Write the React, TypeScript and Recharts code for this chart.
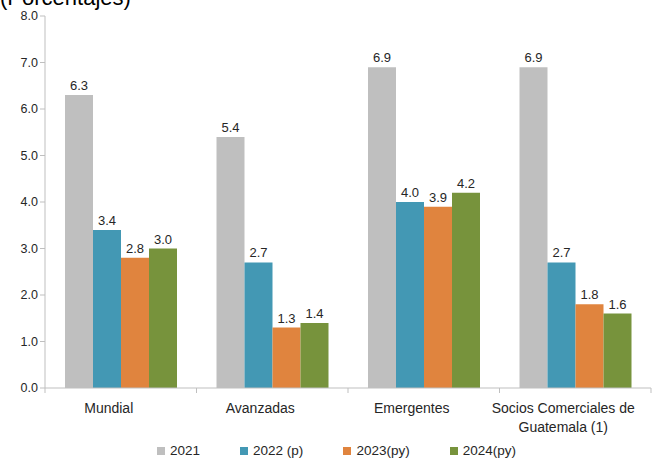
import React from 'react';
import { BarChart, Bar, XAxis, YAxis, LabelList, Legend } from 'recharts';

const categories = ['Mundial', 'Avanzadas', 'Emergentes', 'Socios Comerciales de Guatemala (1)'];
const y2021 = [6.3, 5.4, 6.9, 6.9];
const y2022 = [3.4, 2.7, 4.0, 2.7];
const y2023 = [2.8, 1.3, 3.9, 1.8];
const y2024 = [3.0, 1.4, 4.2, 1.6];
const yTicks = [0, 1, 2, 3, 4, 5, 6, 7, 8];

const series = [
  { key: 'a2021', name: '2021', color: '#BFBFBF', values: y2021 },
  { key: 'a2022', name: '2022 (p)', color: '#4398B4', values: y2022 },
  { key: 'a2023', name: '2023(py)', color: '#E0843E', values: y2023 },
  { key: 'a2024', name: '2024(py)', color: '#77933C', values: y2024 },
];

const data = categories.map((name, i) => {
  const row: Record<string, string | number> = { name };
  series.forEach((s) => {
    row[s.key] = s.values[i];
  });
  return row;
});

const FONT = '"Liberation Sans", Arial, sans-serif';

// greedy word wrap by character count
const wrap = (text: string, max: number) => {
  const lines: string[] = [];
  let cur = '';
  text.split(' ').forEach((w) => {
    const next = cur ? `${cur} ${w}` : w;
    if (next.length > max && cur) {
      lines.push(cur);
      cur = w;
    } else {
      cur = next;
    }
  });
  if (cur) lines.push(cur);
  return lines;
};

const CategoryTick = (props: any) => {
  const { x, y, payload, width, visibleTicksCount, index } = props;
  const band = width / visibleTicksCount;
  const lines = wrap(String(payload.value), 22);
  return (
    <g>
      <line x1={x + band / 2} y1={y - 8} x2={x + band / 2} y2={y - 3} stroke="#BFBFBF" />
      {index === 0 && <line x1={x - band / 2} y1={y - 8} x2={x - band / 2} y2={y - 3} stroke="#BFBFBF" />}
      <text x={x - 12} y={y + 4} textAnchor="middle" fill="#262626" fontSize={14} fontFamily={FONT}>
        {lines.map((l, i) => (
          <tspan key={i} x={x - 12} dy={i === 0 ? '0.9em' : 19}>
            {l}
          </tspan>
        ))}
      </text>
    </g>
  );
};

const LegendContent = () => (
  <div
    style={{
      display: 'flex',
      justifyContent: 'center',
      gap: 40,
      fontFamily: FONT,
      fontSize: 13.5,
      lineHeight: '16px',
      color: '#262626',
      paddingLeft: 22,
      paddingTop: 3,
    }}
  >
    {series.map((s) => (
      <div key={s.key} style={{ display: 'flex', alignItems: 'center' }}>
        <span style={{ width: 8, height: 8, background: s.color, display: 'inline-block', marginRight: 5 }} />
        <span>{s.name}</span>
      </div>
    ))}
  </div>
);

const App: React.FC = () => {
  return (
    <div style={{ position: 'fixed', top: 0, left: 0, width: 655, height: 461, overflow: 'hidden', background: '#fff' }}>
      <div
        style={{
          position: 'absolute',
          top: -15,
          left: 0,
          fontFamily: FONT,
          fontSize: 22,
          color: '#000',
          whiteSpace: 'nowrap',
        }}
      >
        (Porcentajes)
      </div>
      <BarChart
        width={655}
        height={461}
        data={data}
        margin={{ top: 16, right: 4, bottom: 1, left: 0 }}
        barCategoryGap={20}
        barGap={0}
      >
        <YAxis
          domain={[0, 8]}
          ticks={yTicks}
          width={45}
          tickFormatter={(v: number) => v.toFixed(1)}
          axisLine={{ stroke: '#BFBFBF' }}
          tickLine={{ stroke: '#BFBFBF' }}
          tickSize={5}
          tick={{ fill: '#262626', fontSize: 12.5, fontFamily: FONT }}
        />
        <XAxis
          dataKey="name"
          height={52}
          axisLine={{ stroke: '#BFBFBF' }}
          tickLine={false}
          interval={0}
          tick={<CategoryTick />}
        />
        <Legend verticalAlign="bottom" height={20} content={<LegendContent />} />
        {series.map((s) => (
          <Bar key={s.key} dataKey={s.key} name={s.name} fill={s.color} isAnimationActive={false}>
            <LabelList
              dataKey={s.key}
              position="top"
              offset={5}
              formatter={(v: any) => Number(v).toFixed(1)}
              style={{ fill: '#262626', fontSize: 13, fontFamily: FONT }}
            />
          </Bar>
        ))}
      </BarChart>
    </div>
  );
};

export default App;
